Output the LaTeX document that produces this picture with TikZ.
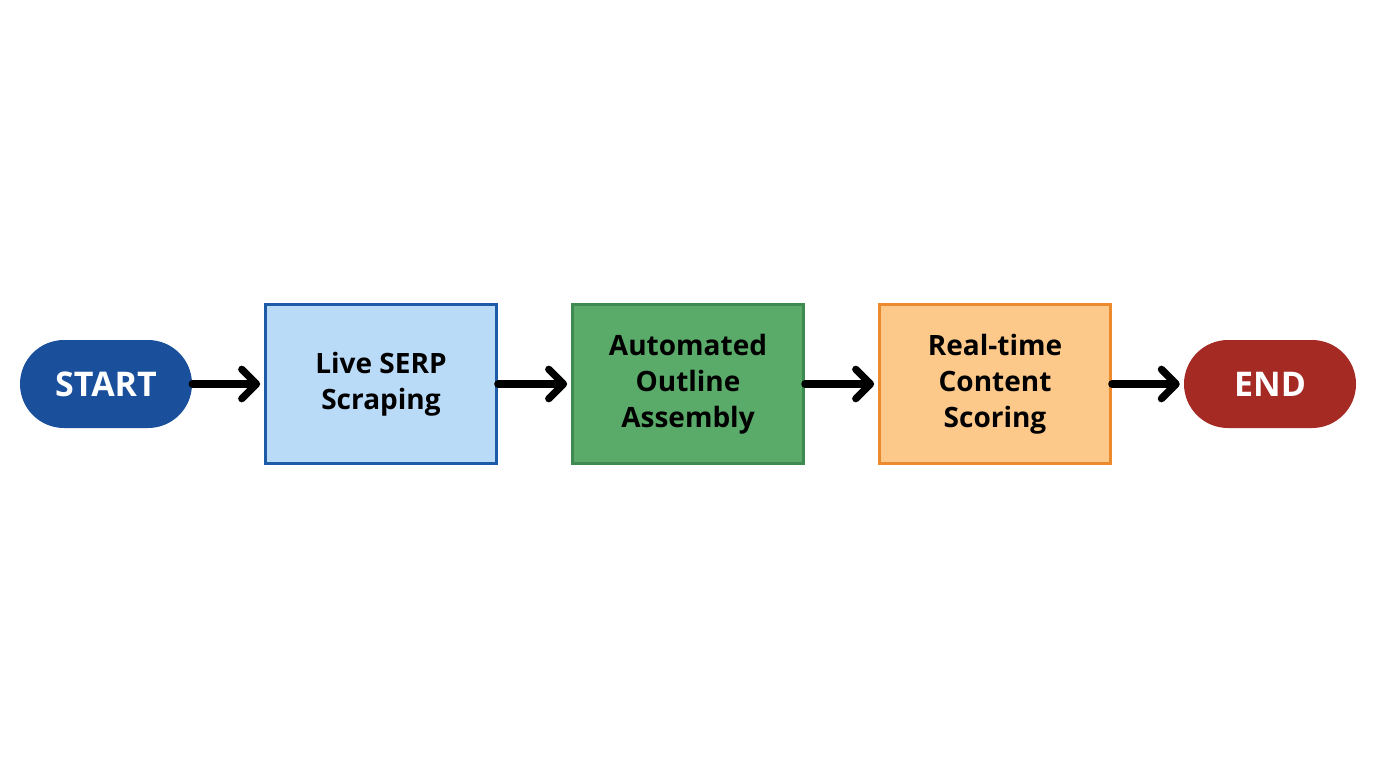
\documentclass[tikz,border=0pt]{standalone}
\usepackage{fontspec}
\setmainfont{Open Sans}
\usetikzlibrary{arrows.meta}
\definecolor{sb}{HTML}{1A4F9C}
\definecolor{eb}{HTML}{A52A24}
\definecolor{b1f}{HTML}{B9DBF7}\definecolor{b1d}{HTML}{1D5AA8}
\definecolor{b2f}{HTML}{5AAB6A}\definecolor{b2d}{HTML}{3E8A50}
\definecolor{b3f}{HTML}{FCC98A}\definecolor{b3d}{HTML}{EE8A2E}
\begin{document}
\begin{tikzpicture}[x=0.75pt,y=-0.75pt,
 pill/.style={rounded corners=33pt,minimum width=129pt,minimum height=66pt,inner sep=0pt,text=white,font=\fontsize{25.5}{28}\selectfont\bfseries},
 box/.style={draw,line width=2.3pt,minimum width=173pt,minimum height=119pt,align=center,inner sep=0pt,font=\fontsize{21}{27}\selectfont\bfseries},
 arr/.style={line width=5.5pt,line cap=round,-{Straight Barb[length=11pt,width=22pt,line width=5.5pt,round]}}]
\useasboundingbox (0,0) rectangle (1376,768);
\fill[white] (0,0) rectangle (1376,768);
\node[pill,fill=sb] (s) at (106,384) {START};
\node[box,fill=b1f,draw=b1d] (a) at (381,384) {Live SERP\\Scraping};
\node[box,fill=b2f,draw=b2d] (b) at (688,384) {Automated\\Outline\\Assembly};
\node[box,fill=b3f,draw=b3d] (c) at (995,384) {Real-time\\Content\\Scoring};
\node[pill,fill=eb] (e) at (1270,384) {END};
\draw[arr] (s) -- ([xshift=-3pt]a.west);
\draw[arr] (a) -- ([xshift=-3pt]b.west);
\draw[arr] (b) -- ([xshift=-3pt]c.west);
\draw[arr] (c) -- ([xshift=-3pt]e.west);
\end{tikzpicture}
\end{document}
